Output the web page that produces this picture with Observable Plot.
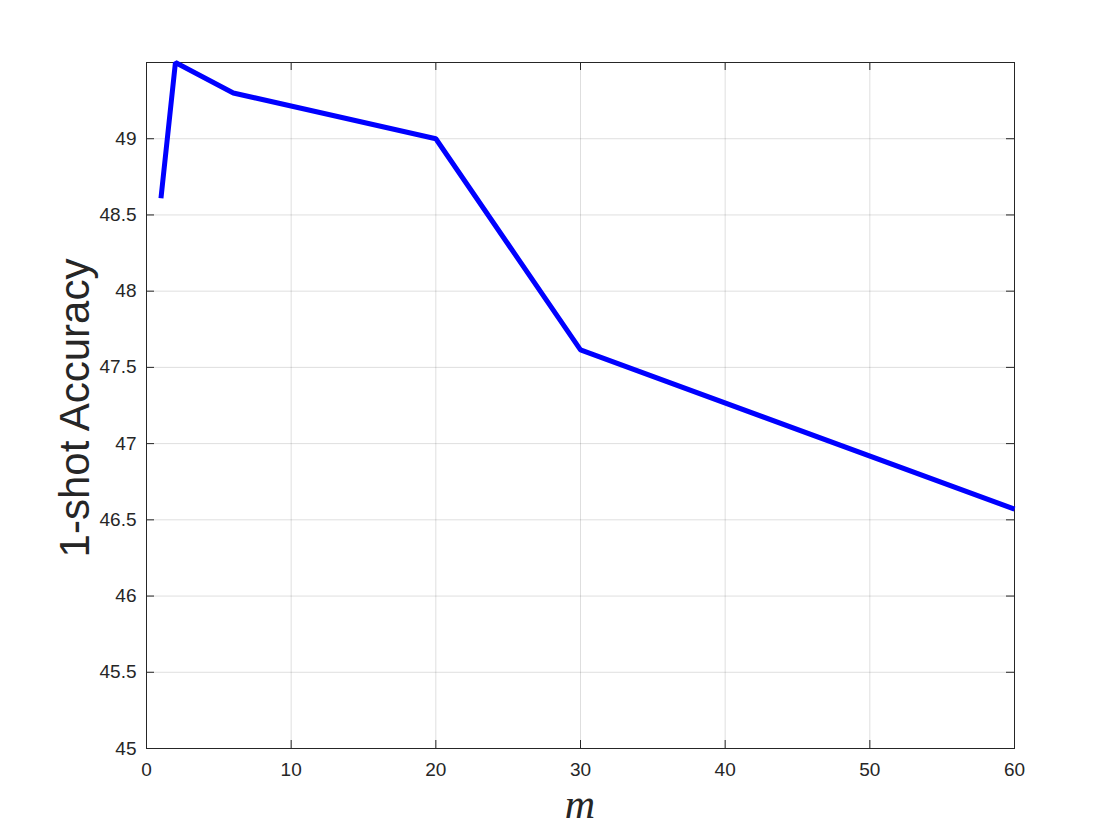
<!DOCTYPE html>
<html>
<head>
<meta charset="utf-8">
<script src="https://cdn.jsdelivr.net/npm/d3@7"></script>
<script src="https://cdn.jsdelivr.net/npm/@observablehq/plot@0.6"></script>
<style>
  html, body { margin: 0; padding: 0; background: #fff; }
  #chart { width: 1120px; height: 840px; }
</style>
</head>
<body>
<div id="chart"></div>
<script>
const mValues = [1, 2, 6, 20, 30, 60];
const accuracy = [48.61, 49.5, 49.3, 49.0, 47.615, 46.57];
const xTicks = [0, 10, 20, 30, 40, 50, 60];
const yTicks = [45, 45.5, 46, 46.5, 47, 47.5, 48, 48.5, 49];
const xLabel = "m";
const yLabel = "1-shot Accuracy";

const data = mValues.map((m, i) => ({m, acc: accuracy[i]}));

const W = 1120, H = 840;
const mL = 146, mR = 106, mT = 62, mB = 92;
const pw = W - mL - mR, ph = H - mT - mB;
const tk = 8;
const ink = "#262626";

const chart = Plot.plot({
  width: W,
  height: H,
  marginLeft: mL,
  marginRight: mR,
  marginTop: mT,
  marginBottom: mB,
  style: {fontFamily: "'Liberation Sans', Arial, Helvetica, sans-serif", background: "#fff"},
  x: {domain: [0, 60]},
  y: {domain: [45, 49.5]},
  marks: [
    Plot.gridX(xTicks, {stroke: "#000", strokeOpacity: 0.13, strokeWidth: 1}),
    Plot.gridY(yTicks, {stroke: "#000", strokeOpacity: 0.13, strokeWidth: 1}),
    Plot.axisX(xTicks, {anchor: "bottom", tickSize: 0, tickPadding: 14, fontSize: 19, fill: ink, label: null, tickFormat: d3.format("d")}),
    Plot.axisY(yTicks, {anchor: "left", tickSize: 0, tickPadding: 10, fontSize: 19, fill: ink, label: null, tickFormat: d => String(d)}),
    // inward ticks on all four sides
    Plot.tickX(xTicks, {x: d => d, stroke: ink, insetTop: ph - tk}),
    Plot.tickX(xTicks, {x: d => d, stroke: ink, insetBottom: ph - tk}),
    Plot.tickY(yTicks, {y: d => d, stroke: ink, insetRight: pw - tk}),
    Plot.tickY(yTicks, {y: d => d, stroke: ink, insetLeft: pw - tk}),
    Plot.frame({stroke: ink, strokeWidth: 1}),
    Plot.line(data, {x: "m", y: "acc", stroke: "#0000ff", strokeWidth: 5, strokeLinejoin: "miter", strokeLinecap: "butt"})
  ]
});

const svg = d3.select(chart);
svg.append("text")
  .attr("x", mL + pw / 2)
  .attr("y", 818)
  .attr("text-anchor", "middle")
  .attr("font-family", "'Liberation Serif', 'DejaVu Serif', serif")
  .attr("font-style", "italic")
  .attr("font-size", 42)
  .attr("fill", ink)
  .text(xLabel);
svg.append("text")
  .attr("transform", `translate(89, ${mT + ph / 2 + 3}) rotate(-90)`)
  .attr("text-anchor", "middle")
  .attr("font-family", "'Liberation Sans', Arial, Helvetica, sans-serif")
  .attr("font-size", 42)
  .attr("fill", ink)
  .text(yLabel);

document.getElementById("chart").appendChild(chart);
</script>
</body>
</html>
